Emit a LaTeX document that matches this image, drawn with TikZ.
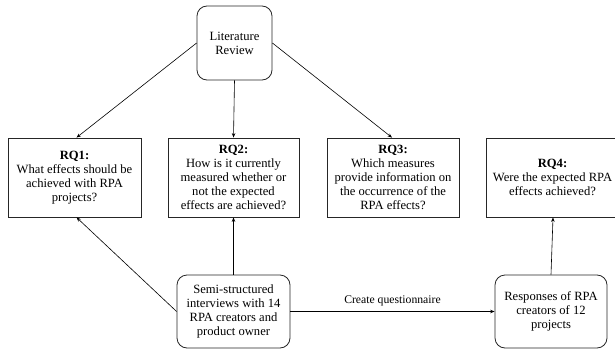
\documentclass[tikz,border=0pt]{standalone}
\usepackage{fontspec}
\setmainfont{Liberation Serif}
\usetikzlibrary{arrows.meta}
\begin{document}
\begin{tikzpicture}[x=1pt,y=-1pt,
  every node/.style={font=\fontsize{12.6}{14.2}\selectfont, align=center, inner sep=0pt},
  rqbox/.style={draw=black!85, line width=0.8pt, minimum width=132pt, minimum height=79pt},
  rbox/.style={draw=black!85, line width=0.8pt, rounded corners=10pt},
  conn/.style={draw=black, line width=0.6pt, -{Stealth[length=4.5pt,width=3.5pt]}}]
\useasboundingbox (0,0) rectangle (615,353);
\clip (0,0) rectangle (615,353);
\node[rbox, minimum width=75pt, minimum height=74pt] (lit) at (234.5,43) {Literature\\Review};
\node[rqbox, minimum width=133pt] (rq1) at (74.5,177.5) {\textbf{RQ1:}\\What effects should be\\achieved with RPA\\projects?};
\node[rqbox, minimum width=131pt] (rq2) at (233.5,177.5) {\textbf{RQ2:}\\How is it currently\\measured whether or\\not the expected\\effects are achieved?};
\node[rqbox] (rq3) at (393,177.5) {\textbf{RQ3:}\\Which measures\\provide information on\\the occurrence of the\\RPA effects?};
\node[rqbox, minimum width=133pt] (rq4) at (552.5,177.5) {\textbf{RQ4:}\\Were the expected RPA\\effects achieved?};
\node[rbox, minimum width=113pt, minimum height=73pt] (semi) at (233.5,311.5) {Semi-structured\\interviews with 14\\RPA creators and\\product owner};
\node[rbox, minimum width=112pt, minimum height=73pt] (resp) at (551,311.5) {Responses of RPA\\creators of 12\\projects};
\draw[conn] (lit.west) -- ([xshift=2pt]rq1.north);
\draw[conn] (lit.south) -- (rq2.north);
\draw[conn] (lit.east) -- ([xshift=-1pt]rq3.north);
\draw[conn] (semi.north) -- (rq2.south);
\draw[conn] (semi.west) -- ([xshift=2pt]rq1.south);
\draw[conn] (semi.east) -- node[above=5pt, font=\fontsize{11.7}{13}\selectfont] (lbl) {Create questionnaire} (resp.west);
\draw[conn] (resp.north) -- ([xshift=0.5pt]rq4.south);
\end{tikzpicture}
\end{document}
